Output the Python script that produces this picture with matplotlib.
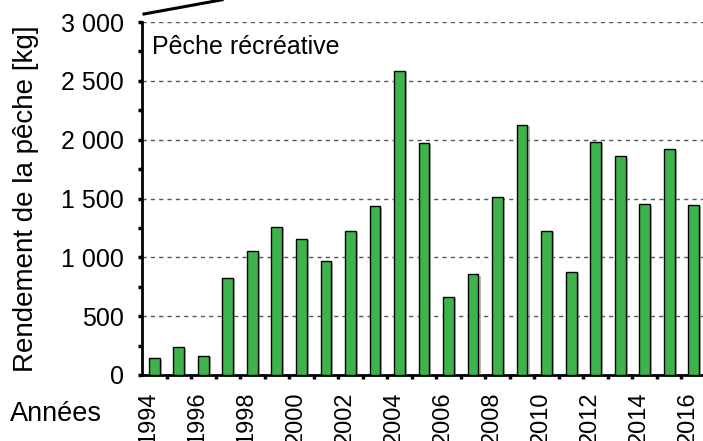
import numpy as np
import matplotlib
matplotlib.use("Agg")
import matplotlib.pyplot as plt
import matplotlib.patheffects as pe
import matplotlib.transforms as mtransforms
from matplotlib.lines import Line2D
from matplotlib.ticker import FixedLocator, MultipleLocator, FuncFormatter

plt.rcParams['font.family'] = ['Liberation Sans', 'DejaVu Sans']

## Data ##
years = list(range(1994, 2017))
catch_kg = [142, 235, 161, 826, 1050, 1259, 1160, 968, 1220, 1435, 2583, 1972,
            662, 855, 1514, 2128, 1228, 877, 1981, 1859, 1452, 1922, 1449]
year_labels = [str(y) if y % 2 == 0 else "" for y in years]

W, H = 703, 441
fig = plt.figure(figsize=(W / 100, H / 100), dpi=100)
ax = fig.add_axes([142 / W, (H - 375) / H, 564 / W, 353 / H])

x = np.arange(len(years))
ax.bar(x, catch_kg, width=0.44, color='#3cb44b', edgecolor='black', linewidth=1.0,
       zorder=3,
       path_effects=[pe.SimplePatchShadow(offset=(1.5, -1), shadow_rgbFace='#888888', alpha=0.6),
                     pe.Normal()])

## Axes ##
ax.set_xlim(-0.5, len(years) - 0.5)
ax.set_ylim(0, 3000)
ax.spines['top'].set_visible(False)
ax.spines['right'].set_visible(False)
ax.spines['left'].set_linewidth(2)
ax.spines['bottom'].set_linewidth(2)

ax.yaxis.set_major_locator(MultipleLocator(500))
ax.yaxis.set_minor_locator(MultipleLocator(250))
ax.yaxis.set_major_formatter(FuncFormatter(lambda v, p: f"{int(v):,}".replace(",", " ")))
ax.tick_params(axis='y', which='both', length=3, width=2.5, direction='out', pad=10,
               labelsize=18)

ax.xaxis.set_major_locator(FixedLocator(x))
ax.set_xticklabels(year_labels, rotation=90, fontsize=17)
ax.xaxis.set_minor_locator(FixedLocator(x[:-1] + 0.5))
ax.tick_params(axis='x', which='major', length=0, pad=12)
ax.tick_params(axis='x', which='minor', length=3, width=2.5, direction='out')
shift = mtransforms.ScaledTranslation(-6 / 100, 0, fig.dpi_scale_trans)
for lbl in ax.get_xticklabels():
    lbl.set_transform(lbl.get_transform() + shift)

ax.grid(axis='y', which='major', linestyle=(0, (3, 3)), color='#555555', linewidth=1, zorder=0)

## Labels ##
ax.set_ylabel("Rendement de la pêche [kg]", fontsize=20, labelpad=16)
fig.text(10 / W, 1 - 414 / H, "Années", fontsize=19.5, va='center', ha='left')
ax.text(10 / 564, 0.929, "Pêche récréative", transform=ax.transAxes, fontsize=18,
        va='center', ha='left')

fig.add_artist(Line2D([144 / W, 222 / W], [1 - 14 / H, 1 + 0.2 / H], color='black',
                      linewidth=2.2, transform=fig.transFigure))

fig.savefig("out.png", dpi=100)
